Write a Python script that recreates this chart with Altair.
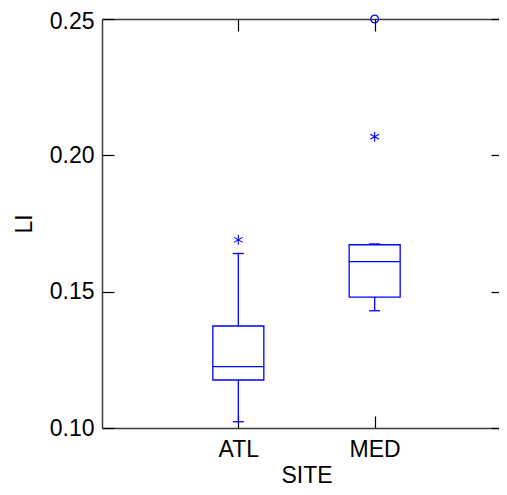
import altair as alt
import pandas as pd

# ---- data ----
sites = ["ATL", "MED"]
whisker_lo = [0.1023, 0.1430]
q1 = [0.1176, 0.1480]
median = [0.1225, 0.1610]
q3 = [0.1374, 0.1672]
whisker_hi = [0.1640, 0.1675]
out_sites = ["ATL", "MED"]          # outside values (asterisks)
out_vals = [0.169, 0.2068]
far_sites = ["MED"]                 # far outside values (circles)
far_vals = [0.25]
y_ticks = [0.10, 0.15, 0.20, 0.25]

W, H = 397, 409
FONT = "Liberation Sans"
BLUE = "#0000ff"

box_df = pd.DataFrame({"SITE": sites, "q1": q1, "median": median, "q3": q3,
                       "lo": whisker_lo, "hi": whisker_hi})
seg_df = pd.DataFrame({
    "SITE": sites + sites,
    "a": whisker_lo + q3,
    "b": q1 + whisker_hi,
})
cap_df = pd.DataFrame({"SITE": sites + sites, "v": whisker_lo + whisker_hi})
out_df = pd.DataFrame({"SITE": out_sites, "v": out_vals})
far_df = pd.DataFrame({"SITE": far_sites, "v": far_vals})

xs = alt.Scale(type="point", domain=sites, range=[0, 409], padding=1)
ys = alt.Scale(domain=[0.10, 0.25], nice=False, zero=False)

tick_style = dict(tickColor="black", tickWidth=1.2, grid=False)
dom_style = dict(domainColor="#3c3c3c", domainWidth=1.5, grid=False)

# whiskers + main axes (ticks, labels, titles)
whiskers = alt.Chart(seg_df).mark_rule(color=BLUE, strokeWidth=1.3).encode(
    x=alt.X("SITE:N", scale=xs, axis=alt.Axis(
        orient="bottom", offset=-12, domain=False, tickSize=12, labelAngle=0,
        labelFont=FONT, labelFontSize=23, labelColor="black", labelPadding=10,
        title="SITE", titleFont=FONT, titleFontSize=23, titleFontWeight="normal",
        titleColor="black", titleX=204.5, titleY=66, titleAlign="center",
        titleBaseline="alphabetic", **tick_style)),
    y=alt.Y("a:Q", scale=ys, axis=alt.Axis(
        orient="left", offset=-12, domain=False, tickSize=12, values=y_ticks,
        format=".2f", labelFont=FONT, labelFontSize=23, labelColor="black",
        labelPadding=8,
        labelOffset={"condition": {"test": "datum.value >= 0.249", "value": 2.5}, "value": 0},
        title="LI", titleFont=FONT, titleFontSize=23,
        titleFontWeight="normal", titleColor="black", titleX=-82.5, titleY=204.5,
        titleAngle=270, titleAlign="center", titleBaseline="alphabetic",
        **tick_style)),
    y2="b:Q",
)

# boxes + top/right inner ticks
boxes = alt.Chart(box_df).mark_bar(filled=False, color=BLUE, strokeWidth=1.3, size=51).encode(
    x=alt.X("SITE:N", scale=xs, axis=alt.Axis(
        orient="top", offset=-12, domain=False, tickSize=12, labels=False,
        title=None, **tick_style)),
    y=alt.Y("q1:Q", scale=ys, axis=alt.Axis(
        orient="right", offset=-8, domain=False, tickSize=8, labels=False,
        values=y_ticks, title=None, **tick_style)),
    y2="q3:Q",
)

# medians + bottom/left frame lines
medians = alt.Chart(box_df).mark_tick(color=BLUE, size=51, thickness=1.3, opacity=1).encode(
    x=alt.X("SITE:N", scale=xs, axis=alt.Axis(
        orient="bottom", ticks=False, labels=False, title=None, **dom_style)),
    y=alt.Y("median:Q", scale=ys, axis=alt.Axis(
        orient="left", ticks=False, labels=False, title=None, **dom_style)),
)

# whisker caps + top frame line
caps = alt.Chart(cap_df).mark_tick(color=BLUE, size=11, thickness=1.3, opacity=1).encode(
    x=alt.X("SITE:N", scale=xs, axis=alt.Axis(
        orient="top", ticks=False, labels=False, title=None, **dom_style)),
    y=alt.Y("v:Q", scale=ys, axis=None),
)

asterisk = "M0,-1L0,1M-0.87,-0.5L0.87,0.5M-0.87,0.5L0.87,-0.5"
outs = alt.Chart(out_df).mark_point(shape=asterisk, size=100, filled=False,
                                    color=BLUE, strokeWidth=1.1, opacity=1).encode(
    x=alt.X("SITE:N", scale=xs, axis=None),
    y=alt.Y("v:Q", scale=ys, axis=None),
)

fars = alt.Chart(far_df).mark_point(shape="circle", size=60, filled=False,
                                    color=BLUE, strokeWidth=1.2, opacity=1).encode(
    x=alt.X("SITE:N", scale=xs, axis=None),
    y=alt.Y("v:Q", scale=ys, axis=None),
)

chart = alt.layer(whiskers, boxes, medians, caps, outs, fars).resolve_axis(
    x="independent", y="independent"
).properties(
    width=W, height=H,
    autosize=alt.AutoSizeParams(type="none"),
    padding={"left": 94, "top": 11, "right": 0, "bottom": 59},
    background="white",
).configure_view(stroke=None)

chart.save("out.html", embed_options={"renderer": "svg", "actions": False})
